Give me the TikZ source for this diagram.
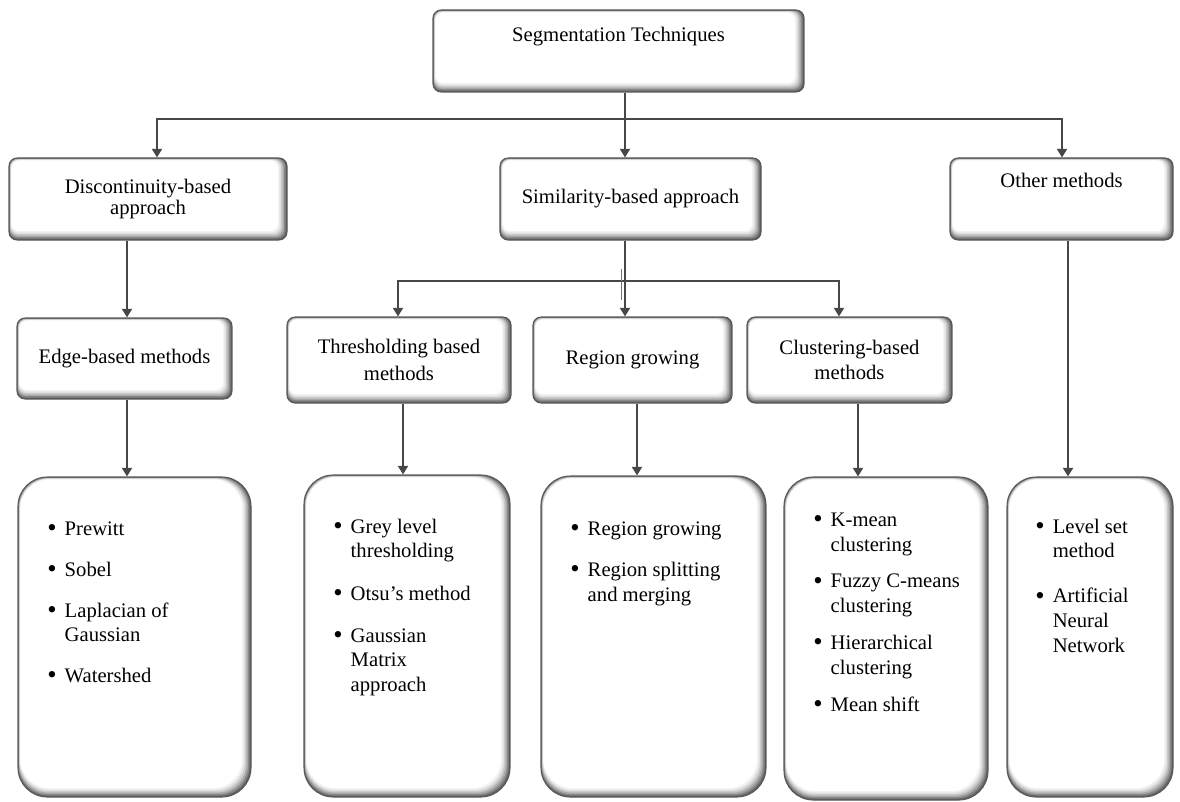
\documentclass[tikz,border=0pt]{standalone}
\usepackage{fontspec}
\setmainfont{Liberation Serif}
\usetikzlibrary{arrows.meta,calc}

\newcommand{\bul}{\makebox[13.5pt][l]{\hspace{0.5pt}\raisebox{-1pt}{\fontsize{20}{0}\selectfont\textbullet}}}
\newcommand{\bulpad}{\hspace*{13.5pt}}

\tikzset{
  box/.style={draw=black!65, line width=0.8pt, rounded corners=#1, inner sep=0pt,
    align=center, font=\fontsize{15.5}{18.6}\selectfont,
    path picture={
      \foreach \k/\c in {0/62,1/48,2/34,3/22,4/12,5/5,6/0}
        \fill[black!\c, rounded corners=#1]
          ([shift={(\k*0.3pt,\k*1.1pt)}]path picture bounding box.south west) rectangle
          ([shift={(-\k*1.1pt,-\k*0.3pt)}]path picture bounding box.north east);
    }},
  box/.default=6pt,
  listtxt/.style={inner sep=0pt, align=left, anchor=north west,
    font=\fontsize{15.5}{18.6}\selectfont},
  conn/.style={draw=black!72, line width=1.6pt,
    -{Triangle[width=7.5pt,length=6.5pt]}}
}

\begin{document}
\begin{tikzpicture}[x=0.75pt,y=-0.75pt]
  \useasboundingbox (0,0) rectangle (1180,802);

  \node[box, minimum width=278.25pt, minimum height=61.5pt,
    text height=10pt, text depth=24pt] (seg) at (618.5,51) {Segmentation Techniques};

  \node[box, minimum width=208.5pt, minimum height=61.5pt] (disc) at (148,199)
    {Discontinuity-based\\[-3pt]approach};
  \node[box, minimum width=195.75pt, minimum height=61.5pt] (sim) at (630.5,199)
    {Similarity-based approach};
  \node[box, minimum width=167.25pt, minimum height=61.5pt,
    text height=10pt, text depth=27pt] (other) at (1061.5,199) {Other methods};

  \node[box, minimum width=161.25pt, minimum height=60.75pt] (edge) at (124.5,358.5)
    {Edge-based methods};
  \node[box, minimum width=168pt, minimum height=64.5pt] (thresh) at (399,360)
    {Thresholding based\\[1.5pt]methods};
  \node[box, minimum width=149.25pt, minimum height=64.5pt] (region) at (632.5,360)
    {Region growing};
  \node[box, minimum width=153.75pt, minimum height=64.5pt] (clust) at (849.5,360)
    {Clustering-based\\methods};

  \node[box=22pt, minimum width=174.75pt, minimum height=240pt] (edgel) at (134.5,637) {};
  \node[box=22pt, minimum width=154.5pt, minimum height=241.5pt] (threshl) at (407,636) {};
  \node[box=22pt, minimum width=168.75pt, minimum height=240.75pt] (regionl) at (653.5,636.5) {};
  \node[box=22pt, minimum width=153pt, minimum height=242.25pt] (clustl) at (886,638.5) {};
  \node[box=22pt, minimum width=124.5pt, minimum height=240pt] (otherl) at (1090,637) {};

  \node[listtxt] (edget) at ($(edgel.north west)+(29,45)$)
    {\bul Prewitt\\[12pt] \bul Sobel\\[12pt] \bul Laplacian of\\ \bulpad Gaussian\\[12pt]
     \bul Watershed};
  \node[listtxt] (thresht) at ($(threshl.north west)+(29,44)$)
    {\bul Grey level\\ \bulpad thresholding\\[13pt] \bul Otsu’s method\\[13pt]
     \bul Gaussian\\ \bulpad Matrix\\ \bulpad approach};
  \node[listtxt] (regiont) at ($(regionl.north west)+(29,46)$)
    {\bul Region growing\\[12pt] \bul Region splitting\\ \bulpad and merging};
  \node[listtxt] (clustt) at ($(clustl.north west)+(29,36)$)
    {\bul K-mean\\ \bulpad clustering\\[9pt] \bul Fuzzy C-means\\ \bulpad clustering\\[9pt]
     \bul Hierarchical\\ \bulpad clustering\\[9pt] \bul Mean shift};
  \node[listtxt] (othert) at ($(otherl.north west)+(28,42)$)
    {\bul Level set\\ \bulpad method\\[15pt] \bul Artificial\\ \bulpad Neural\\ \bulpad Network};

  \coordinate (j1) at (625,119);
  \coordinate (j2) at (625,281);
  \coordinate (cdisc) at (157,0);
  \coordinate (cother) at (1062,0);
  \coordinate (cedge) at (127,0);
  \coordinate (cthr) at (398,0);
  \coordinate (cclu) at (839,0);
  \coordinate (cthr2) at (403,0);
  \coordinate (creg2) at (637,0);
  \coordinate (cclu2) at (858,0);
  \coordinate (cother2) at (1068,0);

  \draw[conn] (seg.south -| j1) -- (sim.north -| j1);
  \draw[conn] (j1) -| (disc.north -| cdisc);
  \draw[conn] (j1) -| (other.north -| cother);
  \draw[conn] (disc.south -| cedge) -- (edge.north -| cedge);
  \draw[conn] (edge.south -| cedge) -- (edgel.north -| cedge);

  \draw[conn] (sim.south -| j2) -- (region.north -| j2);
  \draw[conn] (j2) -| (thresh.north -| cthr);
  \draw[conn] (j2) -| (clust.north -| cclu);
  \draw[black!55, line width=0.5pt] ($(j2)+(-4,-12)$) -- ($(j2)+(-4,19)$);

  \draw[conn] (thresh.south -| cthr2) -- (threshl.north -| cthr2);
  \draw[conn] (region.south -| creg2) -- (regionl.north -| creg2);
  \draw[conn] (clust.south -| cclu2) -- (clustl.north -| cclu2);
  \draw[conn] (other.south -| cother2) -- (otherl.north -| cother2);
\end{tikzpicture}
\end{document}
